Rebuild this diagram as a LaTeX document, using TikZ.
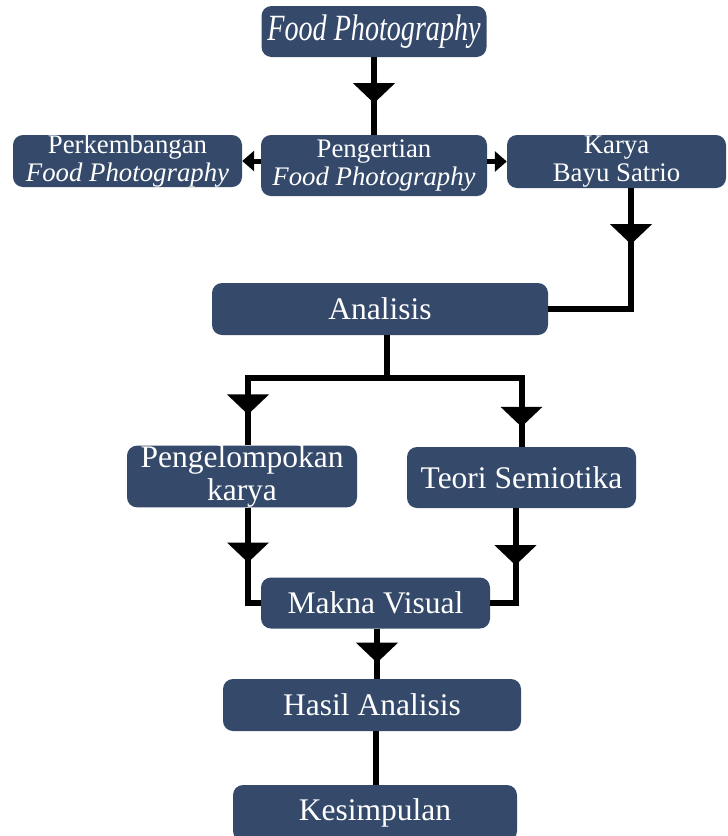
\documentclass[tikz,border=0pt]{standalone}
\usepackage{fontspec}
\setmainfont{Liberation Serif}
\usetikzlibrary{arrows.meta,calc}
\definecolor{boxblue}{RGB}{53,74,107}
\tikzset{
  box/.style={draw=none, fill=boxblue, rounded corners=10pt, text=white, inner sep=0pt, align=center},
  conn/.style={line width=6pt, draw=black},
  sidearrow/.style={line width=5pt, draw=black, -{Triangle[length=12pt,width=20pt]}},
  tri/.pic={\fill[black] (-21,-10) -- (21,-10) -- (0,10) -- cycle;},
  bigtxt/.style={font=\fontsize{31.5}{33}\selectfont},
  smalltxt/.style={font=\fontsize{26.8}{27.5}\selectfont}
}
\begin{document}
\begin{tikzpicture}[x=1pt,y=-1pt]
\useasboundingbox (0,0) rectangle (728,836);

% nodes
\node[box, minimum width=225pt, minimum height=51pt, font=\fontsize{37}{40}\selectfont\itshape]
  (fp) at (374,31.5) {\scalebox{0.76}[1]{Food Photography}};
\node[box, smalltxt, minimum width=229pt, minimum height=52pt]
  (pk) at (127.5,161) {Perkembangan\\\textit{Food Photography}};
\node[box, smalltxt, minimum width=226pt, minimum height=61pt]
  (pg) at (374,165.5) {Pengertian\\\textit{Food Photography}};
\node[box, smalltxt, minimum width=219pt, minimum height=53pt]
  (ky) at (616.5,161.5) {Karya\\Bayu Satrio};
\node[box, bigtxt, minimum width=336pt, minimum height=52pt]
  (an) at (380,309) {Analisis};
\node[box, bigtxt, minimum width=230pt, minimum height=61pt]
  (pl) at (242,476.5) {Pengelompokan\\karya};
\node[box, bigtxt, minimum width=229pt, minimum height=61pt]
  (ts) at (521.5,477.5) {Teori Semiotika};
\node[box, bigtxt, minimum width=229pt, minimum height=51pt]
  (mv) at (375.5,603) {Makna Visual};
\node[box, bigtxt, minimum width=298pt, minimum height=52pt]
  (ha) at (372,705) {Hasil Analisis};
\node[box, bigtxt, minimum width=284pt, minimum height=56pt]
  (ks) at (375,813) {Kesimpulan};

% connection points
\coordinate (kyout) at ($(ky.south)+(14.5,0)$);
\coordinate (anout) at ($(an.south)+(7,0)$);
\coordinate (split) at ($(anout)+(0,43)$);
\coordinate (plin) at ($(pl.north)+(6,0)$);
\coordinate (plout) at ($(pl.south)+(6,0)$);
\coordinate (tsout) at ($(ts.south)+(-6,0)$);
\coordinate (mvout) at ($(mv.south)+(1.5,0)$);
\coordinate (haout) at ($(ha.south)+(4,0)$);

% connectors
\draw[conn] (fp.south) -- (pg.north);
\draw[sidearrow] (pk.east -| pg.west) -- (pk.east);
\draw[sidearrow] (ky.west -| pg.east) -- (ky.west);
\draw[conn] (kyout) |- (an.east);
\draw[conn] (anout) -- (split);
\draw[conn] (plin) |- (split -| ts.north) -- (ts.north);
\draw[conn] (plout) |- (mv.west);
\draw[conn] (tsout) |- (mv.east);
\draw[conn] (mvout) -- (mvout |- ha.north);
\draw[conn] (haout) -- (haout |- ks.north);

% arrowheads on the lines
\pic at ($(fp.south)+(0,36)$) {tri};
\pic at ($(kyout)+(0,46)$) {tri};
\pic at ($(plin)+(0,-41)$) {tri};
\pic at ($(ts.north)+(0,-30)$) {tri};
\pic at ($(plout)+(0,45)$) {tri};
\pic at ($(tsout)+(0,47)$) {tri};
\pic at ($(mvout)+(0,24)$) {tri};
\end{tikzpicture}
\end{document}
